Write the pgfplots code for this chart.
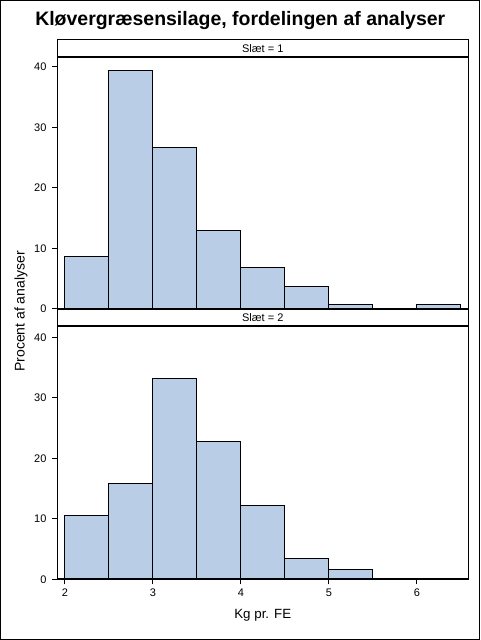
\documentclass[border=0pt]{standalone}
\usepackage{pgfplots}
\pgfplotsset{compat=1.18}
\usepackage{graphicx}
\usepackage{fontspec}
\setmainfont{Liberation Sans}
\definecolor{barfill}{RGB}{185,206,230}
\pgfplotsset{
 panel/.style={
  scale only axis, width=307.875pt, xmin=1.915, xmax=6.58, ymin=0,
  axis line style={line width=0.75pt},
  ytick={0,10,20,30,40},
  tick align=outside, tick pos=left, major tick length=3.75pt,
  tick style={line width=0.75pt, black},
  yticklabel style={font=\fontsize{8.25}{9}\selectfont, xshift=-1pt},
  xticklabel style={font=\fontsize{8.25}{9}\selectfont},
  /pgf/number format/assume math mode=true,
  anchor=south west,
 },
 bars/.style={ybar interval, fill=barfill, draw=black, line width=0.75pt},
}
\begin{document}
\begin{tikzpicture}[x=1pt,y=1pt]
\draw[line width=0.75pt] (0.375,0.375) rectangle (359.625,479.625);
\node[anchor=base west, inner sep=0pt] at (26.25,460.5) {\resizebox{307.5pt}{!}{\bfseries\fontsize{14}{17}\selectfont Kløvergræsensilage, fordelingen af analyser}};
\begin{axis}[panel, at={(43.125pt,248.25pt)}, height=189pt, ymax=41.6, xtick=\empty]
\addplot[bars] coordinates {(2,8.7)(2.5,39.3)(3,26.7)(3.5,13.0)(4,6.9)(4.5,3.7)(5,0.7)(5.5,0)(6,0.7)(6.5,0)};
\end{axis}
\begin{axis}[panel, at={(43.125pt,45.375pt)}, height=190.125pt, ymax=41.9, xtick={2,3,4,5,6}]
\addplot[bars] coordinates {(2,10.5)(2.5,15.8)(3,33.3)(3.5,22.8)(4,12.2)(4.5,3.5)(5,1.7)(5.5,0)(6,0)(6.5,0)};
\end{axis}
% headers
\draw[line width=0.75pt] (43.125,437.25) rectangle (351,450);
\draw[line width=0.75pt] (43.125,235.5) rectangle (351,248.25);
\draw[line width=1.5pt] (43.125,437.25) -- (351,437.25);
\draw[line width=1.5pt] (43.125,248.25) -- (351,248.25);
\draw[line width=1.5pt] (43.125,235.5) -- (351,235.5);
\draw[line width=1.5pt] (43.125,45.375) -- (351,45.375);
\node[font=\fontsize{8.25}{10}\selectfont] at (197.06,443.6) {Slæt = 1};
\node[font=\fontsize{8.25}{10}\selectfont] at (197.06,241.9) {Slæt = 2};
\node[font=\fontsize{10.5}{12}\selectfont, rotate=90] at (15.75,246.4) {Procent af analyser};
\node[font=\fontsize{10}{12}\selectfont] at (197.06,18.75) {Kg pr. FE};
\end{tikzpicture}
\end{document}
